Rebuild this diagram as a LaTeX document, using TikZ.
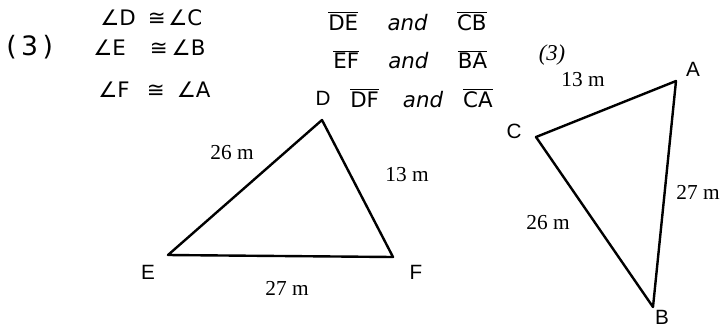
\documentclass[tikz,border=0pt]{standalone}
\usepackage{fontspec}
\setmainfont{Liberation Serif}
\newfontfamily\labelfont{Liberation Sans}
\newfontfamily\handfont{DejaVu Sans}
\usetikzlibrary{calc}
\newcommand{\seg}[1]{$\overline{\hbox{#1}}$}
\tikzset{
  vertexlabel/.style={
    font=\labelfont\fontsize{15.5}{18}\selectfont,
    inner sep=0pt
  },
  sidelength/.style={
    font=\fontsize{16}{19}\selectfont,
    inner sep=0pt
  },
  handnote/.style={
    font=\handfont\fontsize{16}{19}\selectfont,
    inner sep=0pt,
    anchor=west
  },
  side/.style={
    line width=1.8pt,
    line join=round
  }
}

\begin{document}
\begin{tikzpicture}[x=0.75pt, y=-0.75pt]
\useasboundingbox (0,0) rectangle (725,330);
% notes
\node[handnote, font=\handfont\fontsize{20}{22}\selectfont] (num) at (6,47) {(\,3\,)};
\node[handnote] (angD) at (100,18) {∠D\hspace{9pt}≅\hspace{2pt}∠C};
\node[handnote] (angE) at (93,48) {∠E\hspace{18pt}≅\hspace{3pt}∠B};
\node[handnote] (angF) at (98,90) {∠F\hspace{13pt}≅\hspace{9pt}∠A};
\node[handnote] (segDE) at (328,21) {\seg{DE}\hspace{22pt}\textit{and}\hspace{22pt}\seg{CB}};
\node[handnote] (segEF) at (333,60) {\seg{EF}\hspace{22pt}\textit{and}\hspace{22pt}\seg{BA}};
\node[handnote] (segDF) at (350,98) {\seg{DF}\hspace{18pt}\textit{and}\hspace{15pt}\seg{CA}};
% triangle DEF
\coordinate (D) at (322,120);
\coordinate (E) at (168,255);
\coordinate (F) at (393,257);
\draw[side] (D) -- (E) -- (F) -- cycle;
\node[vertexlabel] (labD) at (323,98) {D};
\node[vertexlabel] (labE) at (148,272) {E};
\node[vertexlabel] (labF) at (416,272) {F};
\node[sidelength] (lenDE) at (232,153) {26 m};
\node[sidelength] (lenDF) at (407,175) {13 m};
\node[sidelength] (lenEF) at (287,288) {27 m};
% triangle ABC
\node[sidelength, font=\itshape\fontsize{17}{19}\selectfont] (num2) at (552,55) {(3)};
\coordinate (A) at (676,81);
\coordinate (B) at (653,307);
\coordinate (C) at (536,137);
\draw[side] (C) -- (A) -- (B) -- cycle;
\node[vertexlabel] (labA) at (693,69) {A};
\node[vertexlabel] (labB) at (662,317) {B};
\node[vertexlabel] (labC) at (514,131) {C};
\node[sidelength] (lenCA) at (583,80) {13 m};
\node[sidelength] (lenAB) at (698,192) {27 m};
\node[sidelength] (lenCB) at (548,223) {26 m};
\end{tikzpicture}
\end{document}
